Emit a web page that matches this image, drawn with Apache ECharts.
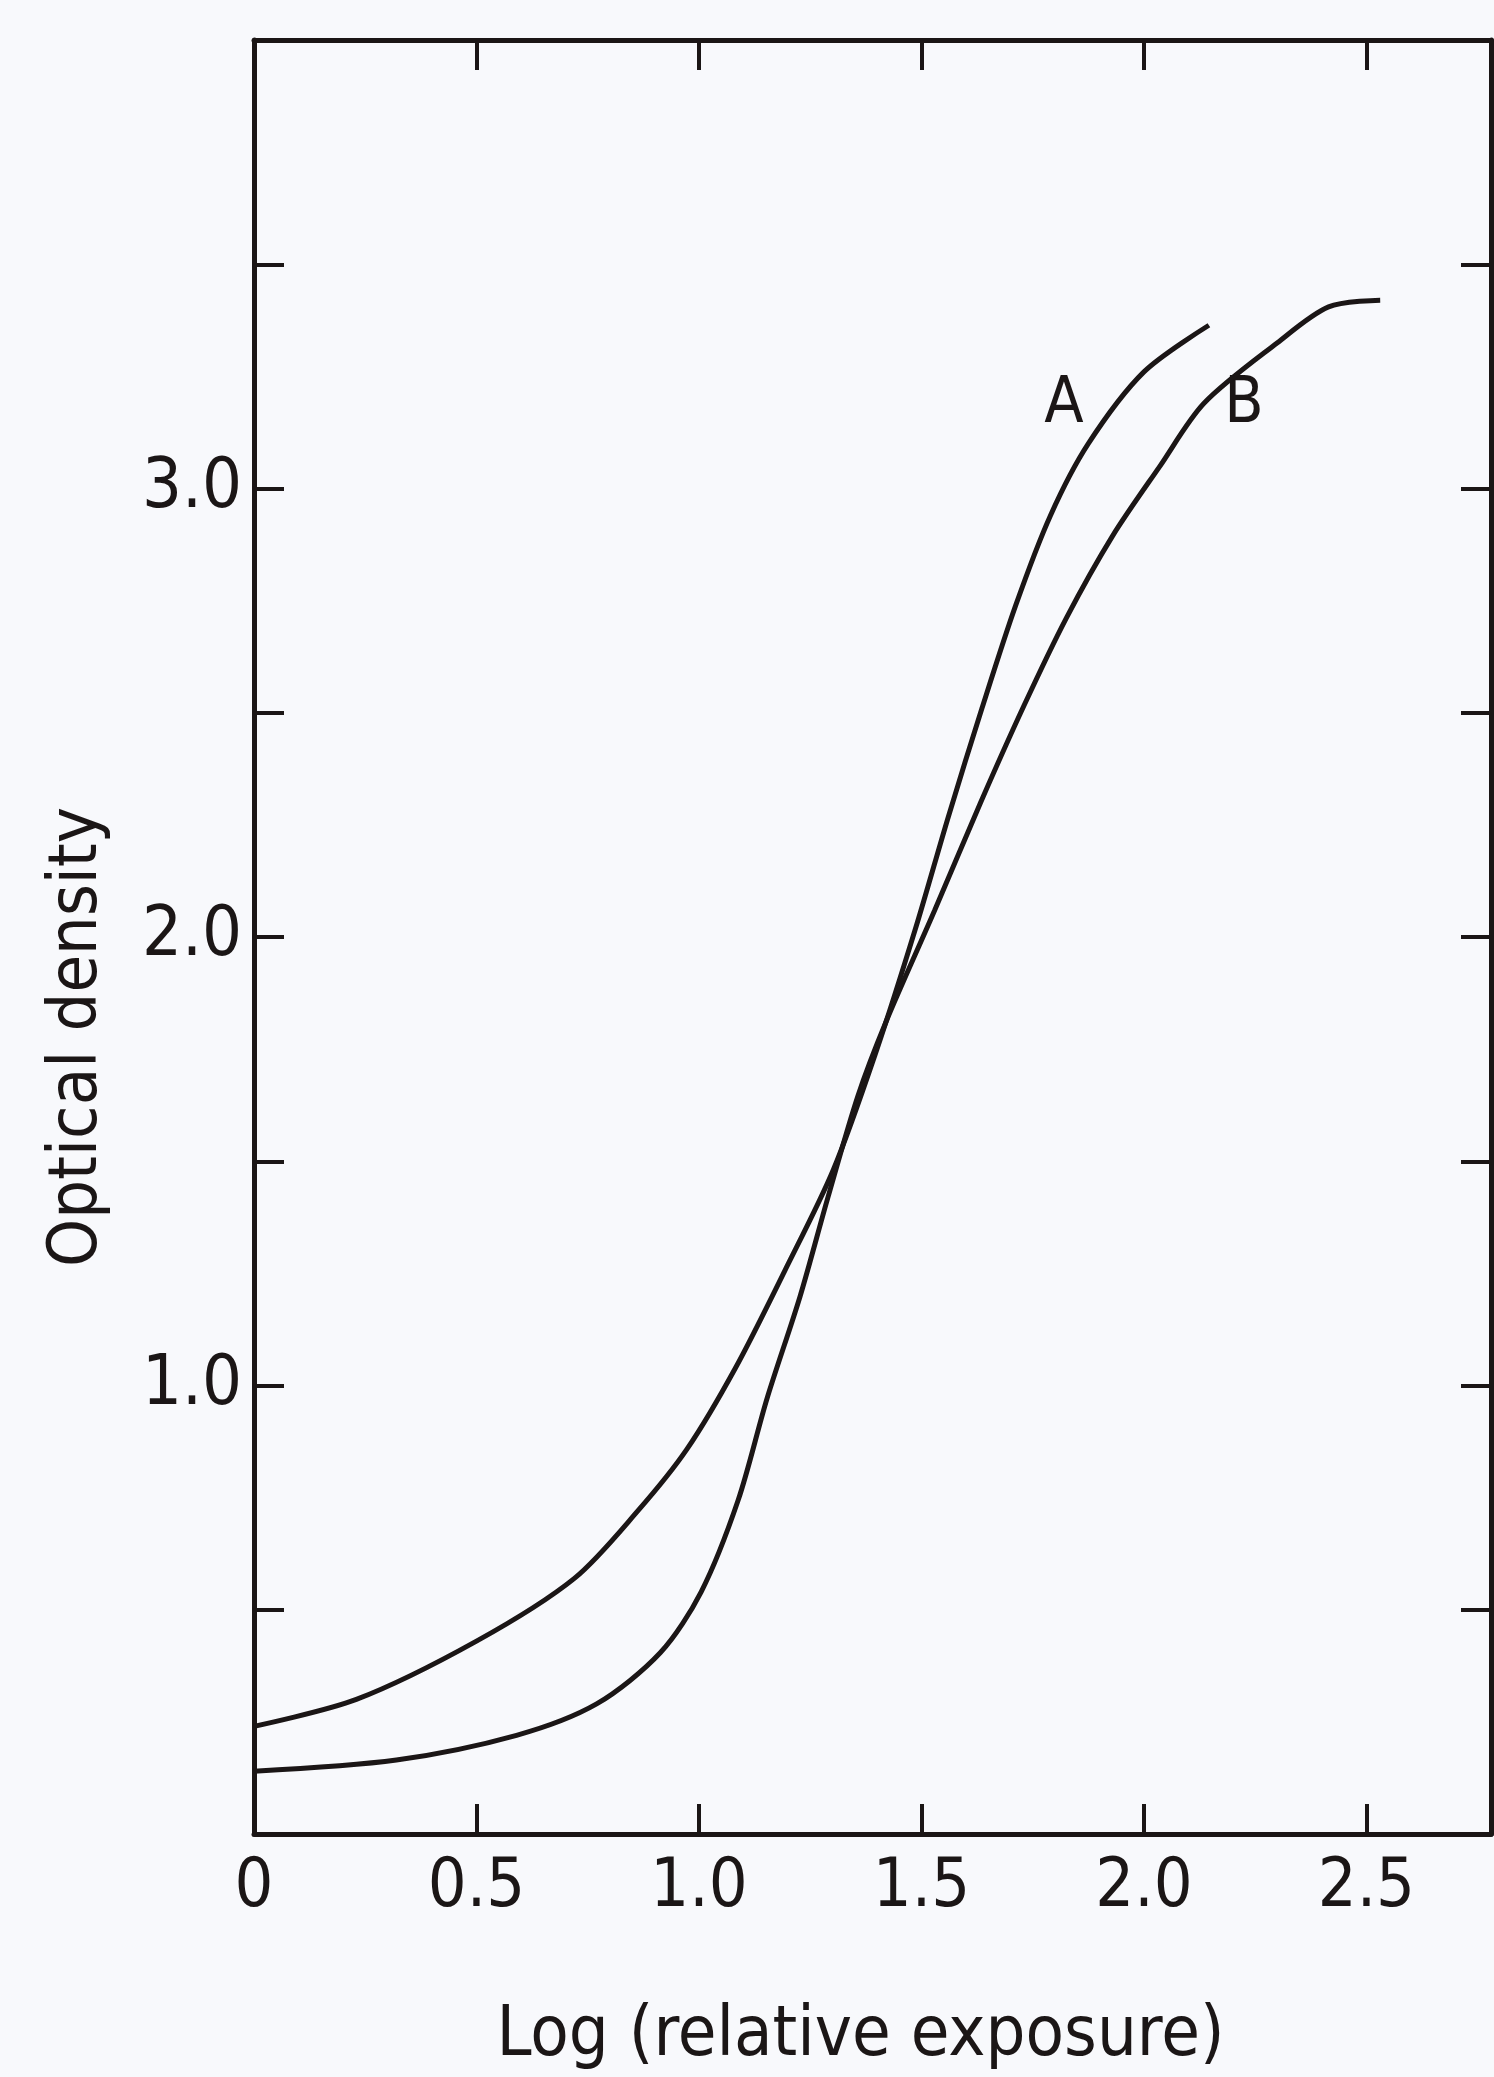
<!DOCTYPE html>
<html>
<head>
<meta charset="utf-8">
<script src="https://cdn.jsdelivr.net/npm/echarts@6/dist/echarts.min.js"></script>
<style>
  html, body { margin: 0; padding: 0; background: #f8f9fc; }
  #chart { width: 1494px; height: 2077px; }
</style>
</head>
<body>
<div id="chart"></div>
<script>
// ---- data ----
const xTickLabels = [0, 0.5, 1.0, 1.5, 2.0, 2.5];
const yTickLabels = [1.0, 2.0, 3.0];

// Curve A: [log relative exposure, optical density]
const curveA = [
  [0.00, 0.24], [0.23, 0.30], [0.50, 0.43], [0.72, 0.57], [0.864, 0.722],
  [0.973, 0.858], [1.082, 1.039], [1.192, 1.254], [1.302, 1.481], [1.40, 1.75],
  [1.487, 2.02], [1.561, 2.27], [1.636, 2.51], [1.712, 2.74], [1.79, 2.94],
  [1.875, 3.10], [2.00, 3.26], [2.146, 3.364]
];
// Curve B
const curveB = [
  [0.00, 0.14], [0.32, 0.165], [0.59, 0.22], [0.77, 0.29], [0.913, 0.404],
  [1.005, 0.54], [1.088, 0.744], [1.153, 0.971], [1.227, 1.198], [1.29, 1.42],
  [1.357, 1.645], [1.42, 1.81], [1.53, 2.06], [1.633, 2.30], [1.73, 2.515],
  [1.825, 2.71], [1.93, 2.895], [2.036, 3.05], [2.135, 3.19], [2.30, 3.325],
  [2.415, 3.405], [2.531, 3.42]
];
// Curve labels
const labelNames = ['A', 'B'];
const labelX = [1.82, 2.225];
const labelY = [3.185, 3.185];

const INK = '#1b1616';
const FONT = '"DejaVu Sans Condensed", "Liberation Sans Narrow", "DejaVu Sans", sans-serif';

const axisLineStyle = { show: true, onZero: false, lineStyle: { color: INK, width: 5 } };
const axisTickStyle = { show: true, inside: true, length: 30, lineStyle: { color: INK, width: 4 } };

const chart = echarts.init(document.getElementById('chart'), null, { renderer: 'canvas' });
chart.setOption({
  backgroundColor: '#f8f9fc',
  animation: false,
  grid: { left: 254, right: 3, top: 40, bottom: 235, containLabel: false },
  xAxis: [
    {
      type: 'value', position: 'bottom', min: 0, max: 2.78, interval: 0.5,
      axisLine: axisLineStyle, axisTick: axisTickStyle, splitLine: { show: false },
      axisLabel: {
        margin: 20, fontSize: 68, color: INK, fontFamily: FONT,
        formatter: v => xTickLabels.includes(v) ? (v === 0 ? '0' : v.toFixed(1)) : ''
      },
      name: 'Log (relative exposure)', nameLocation: 'middle', nameGap: 168,
      nameTextStyle: { fontSize: 70, color: INK, fontFamily: FONT, padding: [0, 24, 0, 0] }
    },
    {
      type: 'value', position: 'top', min: 0, max: 2.78, interval: 0.5,
      axisLine: axisLineStyle, axisTick: axisTickStyle, splitLine: { show: false },
      axisLabel: { show: false }
    }
  ],
  yAxis: [
    {
      type: 'value', position: 'left', min: 0, max: 4, interval: 0.5,
      axisLine: axisLineStyle, axisTick: axisTickStyle, splitLine: { show: false },
      axisLabel: {
        margin: 12, fontSize: 70, color: INK, fontFamily: FONT,
        formatter: v => yTickLabels.includes(v) ? v.toFixed(1) : ''
      },
      name: 'Optical density', nameLocation: 'middle', nameGap: 142,
      nameTextStyle: { fontSize: 68, color: INK, fontFamily: FONT, padding: [0, 200, 0, 0] }
    },
    {
      type: 'value', position: 'right', min: 0, max: 4, interval: 0.5,
      axisLine: axisLineStyle, axisTick: axisTickStyle, splitLine: { show: false },
      axisLabel: { show: false }
    }
  ],
  series: [
    {
      type: 'line', name: 'A', data: curveA, smooth: 0.3,
      showSymbol: false, lineStyle: { color: INK, width: 5 }, z: 3
    },
    {
      type: 'line', name: 'B', data: curveB, smooth: 0.3,
      showSymbol: false, lineStyle: { color: INK, width: 5 }, z: 3
    },
    {
      type: 'scatter', name: 'labels', symbolSize: 1,
      itemStyle: { color: 'rgba(0,0,0,0)', opacity: 1 },
      data: labelNames.map((n, i) => ({ name: n, value: [labelX[i], labelY[i]] })),
      label: { show: true, position: 'inside', formatter: '{b}', fontSize: 64, color: INK, opacity: 1, fontFamily: FONT }
    }
  ]
});
</script>
</body>
</html>
